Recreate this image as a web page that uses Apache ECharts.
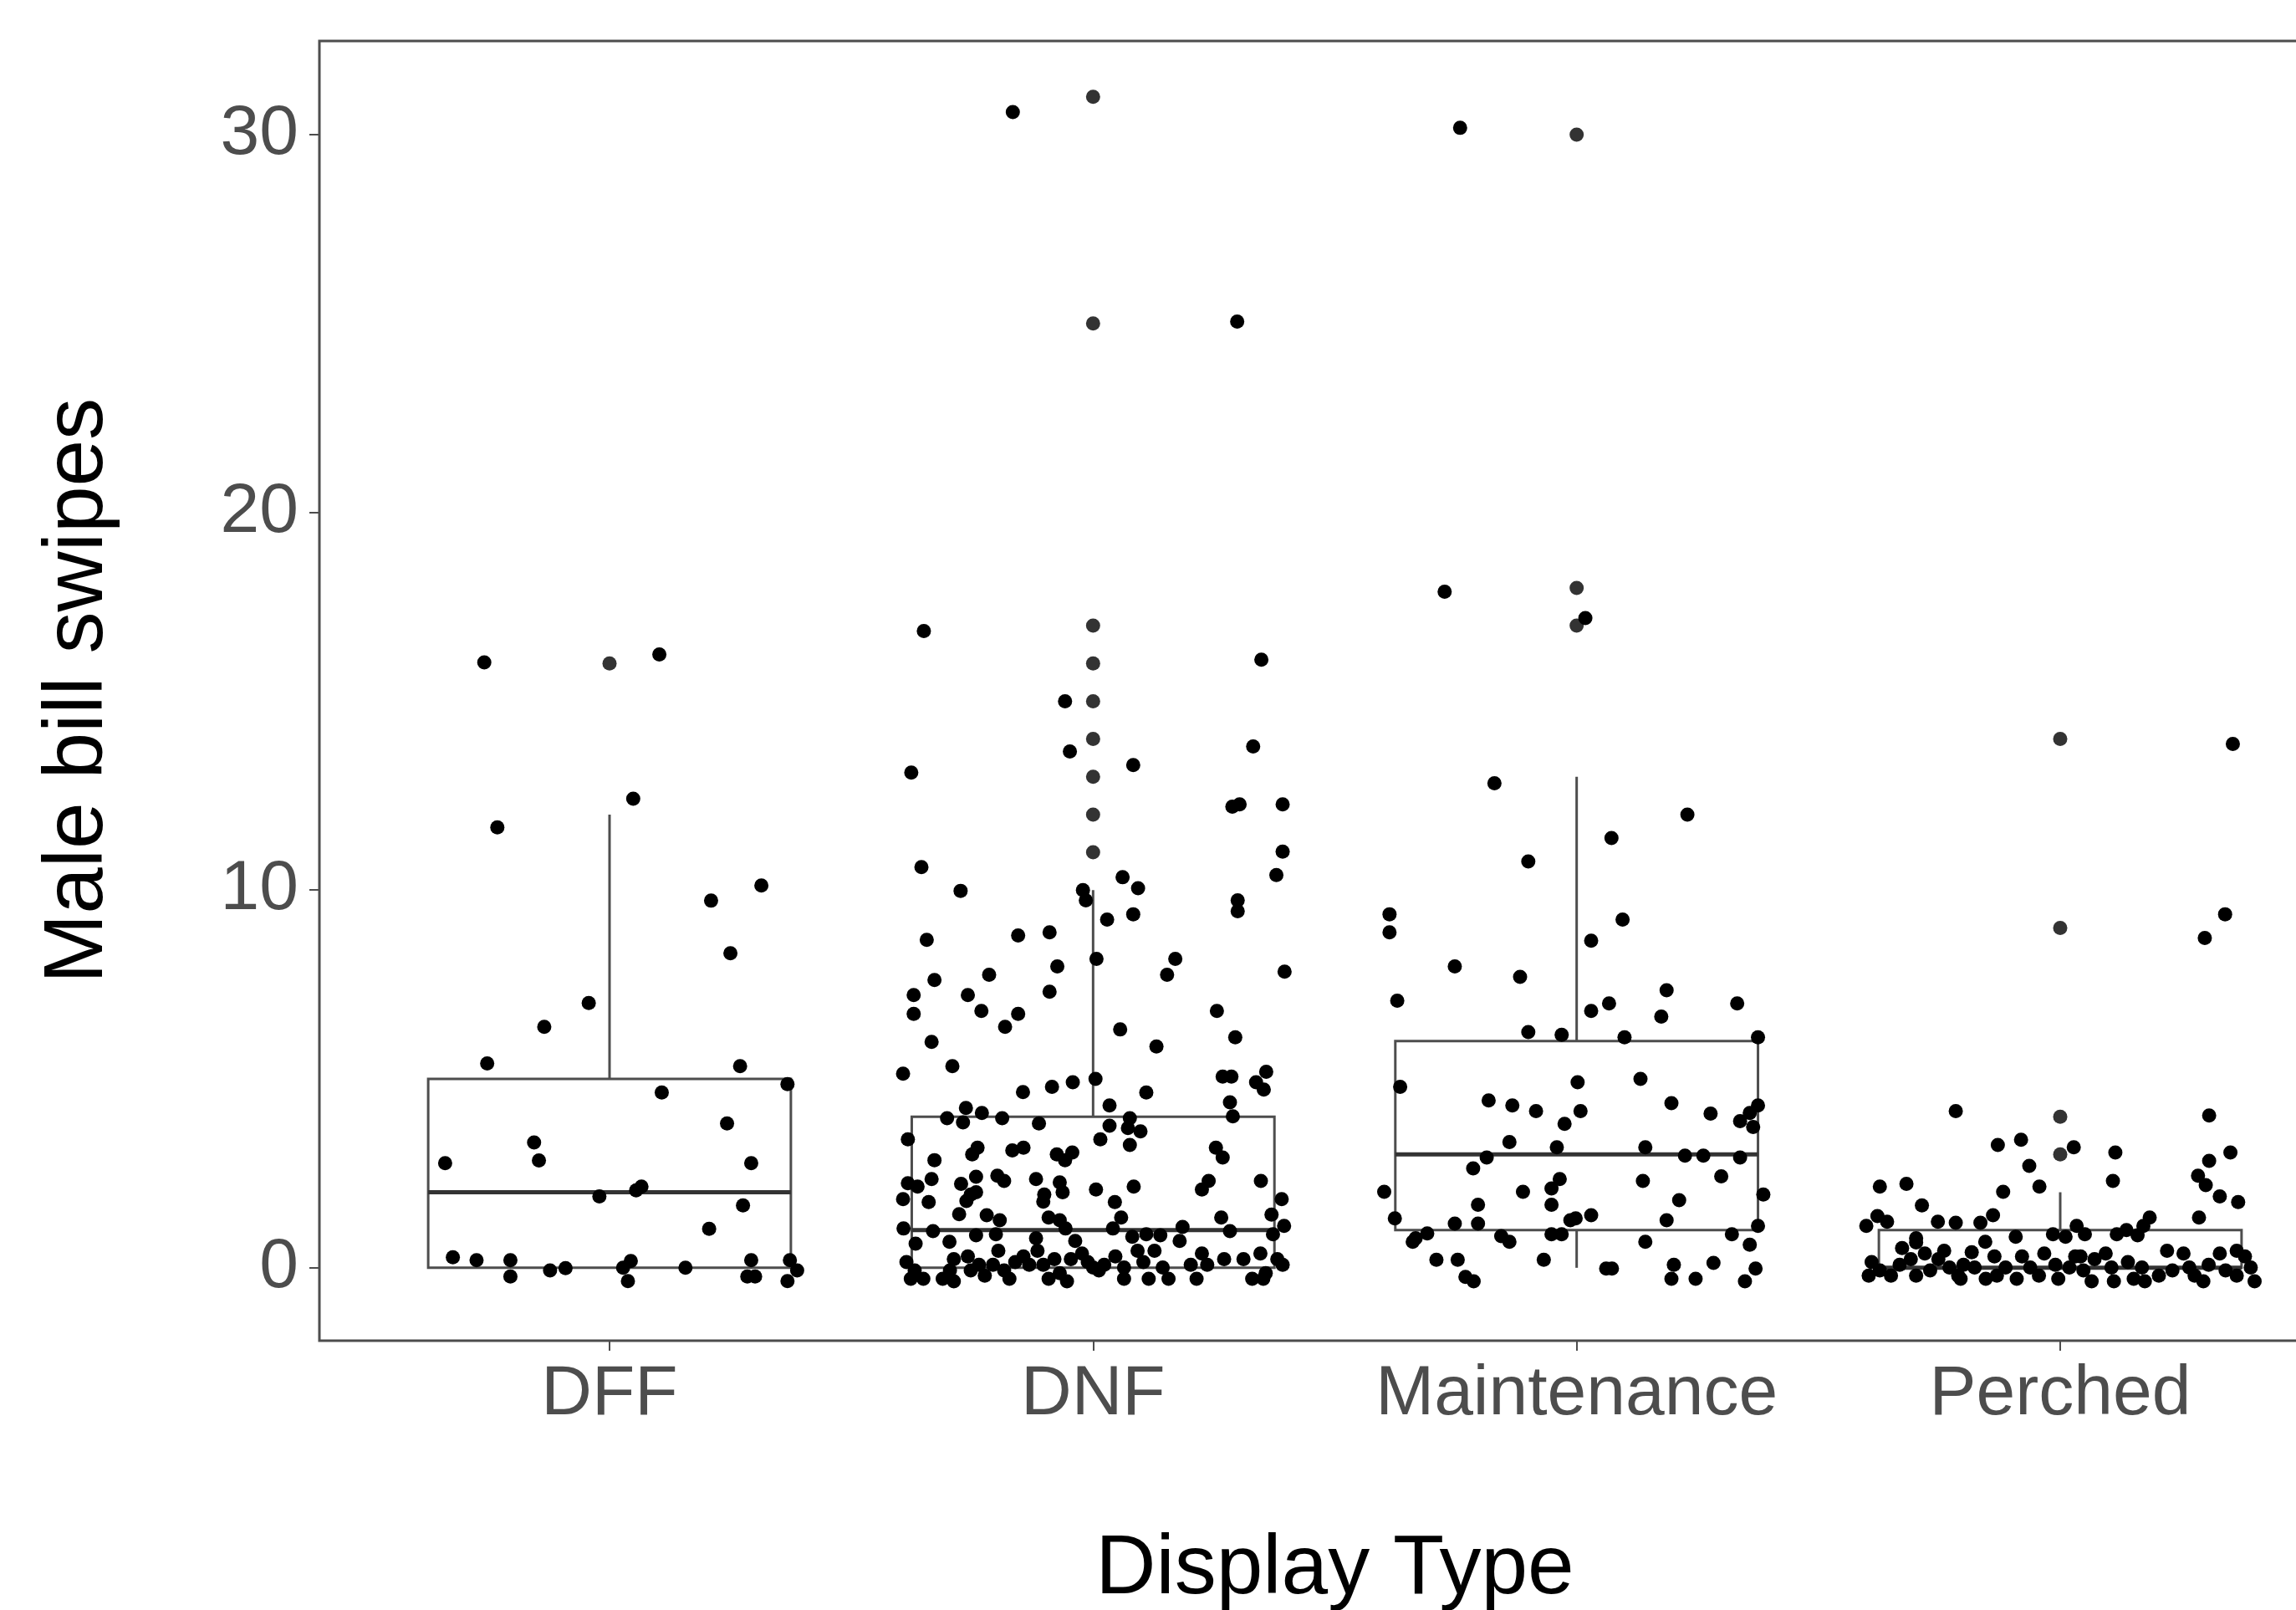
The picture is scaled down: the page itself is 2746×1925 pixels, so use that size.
<!DOCTYPE html>
<html lang="en">
<head>
    <meta charset="UTF-8">
    <title>Male bill swipes by display type</title>
    <style>
        html, body { margin: 0; padding: 0; background: #fff; overflow: hidden; }
    </style>
</head>
<body>
<div id="main" style="width: 2746px;height:1925px;"></div>
<script src="https://cdn.jsdelivr.net/npm/echarts@6/dist/echarts.min.js"></script>
<script>

// categories and box statistics (whisker low, Q1, median, Q3, whisker high)
const categories = ['DFF', 'DNF', 'Maintenance', 'Perched']
const whiskerLow = [0, 0, 0, 0]
const q1 = [0, 0, 1, 0]
const medians = [2, 1, 3, 0]
const q3 = [5, 4, 6, 1]
const whiskerHigh = [12, 10, 13, 2]

// outliers drawn on the category centre line
const outliers = [
    [16],
    [31, 25, 17, 16, 15, 14, 13, 12, 11],
    [30, 18, 17],
    [14, 9, 4, 3]
]

const yTicks = [0, 10, 20, 30]

// jittered raw points, [x position, swipes]
const dffPts = [
    [0.741, 16.03], [1.103, 16.24], [1.049, 12.42], [0.768, 11.66], [1.314, 10.12], [1.210, 9.72],
    [1.250, 8.33], [0.957, 7.01], [0.865, 6.38], [0.747, 5.41], [1.270, 5.34], [1.368, 4.86],
    [1.108, 4.64], [1.243, 3.82], [0.844, 3.32], [0.854, 2.84], [0.660, 2.77], [1.293, 2.77],
    [1.055, 2.05], [1.066, 2.15], [0.979, 1.89], [1.276, 1.65], [1.206, 1.03], [0.676, 0.28],
    [0.725, 0.20], [0.795, 0.20], [0.795, -0.23], [0.877, -0.07], [0.909, -0.01], [1.028, 0.00],
    [1.044, 0.18], [1.038, -0.35], [1.157, 0.00], [1.293, 0.20], [1.285, -0.23], [1.301, -0.23],
    [1.373, 0.20], [1.388, -0.07], [1.368, -0.35]
]

const dnfPts = [
    [1.834, 30.6], [2.298, 25.05], [1.650, 16.86], [2.348, 16.1], [1.942, 15.0],
    [2.331, 13.80], [1.952, 13.67], [2.083, 13.31], [1.624, 13.11], [2.288, 12.21], [2.303, 12.27],
    [2.392, 12.27], [2.392, 11.02], [1.645, 10.61], [2.379, 10.40], [2.061, 10.34], [2.093, 10.05],
    [1.726, 9.98], [1.979, 10.0], [1.985, 9.73], [2.299, 9.73], [2.299, 9.44], [2.029, 9.22],
    [2.083, 9.36], [1.656, 8.68], [1.845, 8.80], [1.910, 8.88], [2.007, 8.18], [2.170, 8.18],
    [2.153, 7.76], [2.396, 7.84], [1.926, 7.98], [1.785, 7.76], [1.672, 7.62], [1.629, 7.22],
    [1.741, 7.22], [1.910, 7.31], [1.629, 6.72], [1.769, 6.80], [1.845, 6.72], [1.818, 6.38],
    [2.256, 6.80], [2.056, 6.31], [2.294, 6.10], [1.666, 5.98], [2.131, 5.86],
    [1.607, 5.14], [1.709, 5.34], [1.855, 4.65], [1.915, 4.79], [1.958, 4.91], [2.005, 5.0],
    [1.698, 3.96], [1.737, 4.23], [1.731, 3.85], [1.770, 4.10], [1.812, 3.96], [1.888, 3.82],
    [1.617, 3.40], [2.015, 3.40], [1.761, 3.18], [1.750, 3.0], [1.833, 3.11], [1.856, 3.18],
    [1.925, 3.0], [1.957, 3.05], [1.942, 2.85], [1.672, 2.85], [1.666, 2.35], [1.617, 2.24],
    [1.637, 2.15], [1.607, 1.82], [1.660, 1.74], [1.758, 2.41], [1.727, 2.22], [1.747, 1.94],
    [1.758, 2.0], [1.738, 1.77], [1.802, 2.44], [1.816, 2.30], [1.882, 2.35], [1.899, 1.94],
    [1.897, 1.75], [1.931, 2.26], [1.937, 2.0], [2.006, 2.07], [1.723, 1.42], [1.780, 1.39],
    [1.807, 1.26], [1.799, 0.89], [1.908, 1.33], [1.931, 1.26], [1.943, 1.04], [1.963, 0.71],
    [1.608, 1.04], [1.669, 0.97], [1.758, 0.86], [1.703, 0.69], [1.633, 0.64], [1.882, 0.78],
    [1.614, 0.15], [1.631, -0.07], [1.623, -0.29], [1.649, -0.29], [1.689, -0.29], [1.704, -0.07],
    [1.712, -0.36], [1.712, 0.23], [1.741, 0.30], [1.747, -0.07], [1.764, 0.08], [1.776, -0.21],
    [1.793, 0.08], [1.804, 0.45], [1.816, -0.07], [1.827, -0.29], [1.839, 0.15], [1.856, 0.30],
    [1.868, 0.08], [1.885, 0.45], [1.897, 0.08], [1.908, -0.29], [1.920, 0.23], [1.931, -0.14],
    [1.946, -0.36], [1.954, 0.23], [1.977, 0.38], [1.989, 0.15], [2.012, -0.07],
    [2.110, 4.64], [2.268, 5.06], [2.286, 5.06], [2.358, 5.19], [2.337, 4.91], [2.353, 4.72],
    [2.283, 4.38], [2.289, 4.01], [2.034, 4.30], [2.076, 3.96], [2.072, 3.70], [2.098, 3.61],
    [2.076, 3.25], [2.034, 3.76], [2.254, 3.18], [2.268, 2.92], [2.084, 2.15], [2.045, 1.74],
    [2.239, 2.30], [2.225, 2.07], [2.347, 2.30], [2.390, 1.82], [2.058, 1.33], [2.041, 1.04],
    [2.265, 1.33], [2.283, 0.97], [2.369, 1.41], [2.372, 0.89], [2.395, 1.11], [2.185, 1.08],
    [2.179, 0.71], [2.081, 0.82], [2.110, 0.89], [2.139, 0.86],
    [2.000, 0.01], [2.023, 0.08], [2.046, 0.30], [2.064, 0.01], [2.064, -0.29], [2.092, 0.45],
    [2.104, 0.15], [2.115, -0.29], [2.127, 0.45], [2.144, 0.01], [2.156, -0.29], [2.202, 0.08],
    [2.214, -0.29], [2.225, 0.38], [2.236, 0.08], [2.271, 0.23], [2.311, 0.23], [2.329, -0.29],
    [2.346, 0.38], [2.357, -0.14], [2.381, 0.23], [2.392, 0.08], [2.352, -0.29]
]

const maintPts = [
    [2.759, 30.18], [2.727, 17.90], [3.018, 17.2], [2.830, 12.83], [2.900, 10.76], [3.229, 12.0],
    [3.072, 11.38], [2.613, 9.36], [2.613, 8.88], [3.095, 9.22], [3.030, 8.66], [2.748, 7.98],
    [2.883, 7.70], [2.629, 7.07], [3.186, 7.35], [3.067, 7.00], [3.030, 6.80], [3.175, 6.65],
    [3.332, 7.00], [2.900, 6.24], [2.969, 6.17], [3.099, 6.10], [3.375, 6.10], [2.635, 4.79],
    [3.002, 4.91], [3.132, 5.0], [2.818, 4.43], [2.867, 4.30], [2.916, 4.15], [3.008, 4.15],
    [2.975, 3.81], [3.196, 4.36], [3.277, 4.08], [3.375, 4.30], [3.358, 4.10], [3.338, 3.88],
    [3.365, 3.73], [2.861, 3.33], [2.959, 3.19], [3.142, 3.19], [2.814, 2.92], [2.786, 2.63],
    [3.224, 2.97], [3.262, 2.97], [3.338, 2.92], [3.299, 2.42], [2.602, 2.01], [2.889, 2.01],
    [2.965, 2.35], [2.948, 2.10], [2.948, 1.67], [2.796, 1.67], [3.137, 2.30], [3.212, 1.79],
    [3.386, 1.94], [2.624, 1.31], [2.748, 1.17], [2.796, 1.17], [2.987, 1.26], [2.998, 1.31],
    [3.030, 1.39], [3.186, 1.26], [3.375, 1.11], [2.691, 0.91], [2.667, 0.78], [2.661, 0.69],
    [2.844, 0.84], [2.861, 0.69], [2.948, 0.89], [2.969, 0.89], [3.142, 0.69], [3.321, 0.89],
    [3.358, 0.61], [2.710, 0.21], [2.754, 0.21], [2.932, 0.21], [2.770, -0.24], [2.787, -0.36],
    [3.061, -0.02], [3.073, -0.02], [3.201, 0.08], [3.196, -0.29], [3.246, -0.29], [3.283, 0.13],
    [3.370, -0.02], [3.348, -0.36]
]

const perchedPts = [
    [4.357, 13.87], [4.341, 9.36], [4.299, 8.73],
    [3.784, 4.15], [4.028, 3.19], [3.871, 3.25], [3.919, 3.39], [3.936, 2.70], [3.957, 2.15],
    [3.882, 2.01], [3.627, 2.15], [3.682, 2.22], [3.714, 1.65], [3.599, 1.11], [3.622, 1.37],
    [3.642, 1.22], [3.747, 1.22], [3.784, 1.19], [3.835, 1.19], [3.861, 1.39], [3.845, 0.69],
    [3.817, 0.41], [3.908, 0.82], [3.985, 0.89], [4.011, 0.82], [4.034, 1.11], [3.702, 0.78],
    [3.610, 0.15], [3.604, -0.21], [3.627, -0.07], [3.650, -0.21], [3.668, 0.08], [3.673, 0.52],
    [3.691, 0.23], [3.702, 0.67], [3.702, -0.21], [3.720, 0.38], [3.731, -0.07], [3.748, 0.23],
    [3.760, 0.45], [3.771, 0.01], [3.789, -0.21], [3.800, 0.08], [3.794, -0.29], [3.823, 0.01],
    [3.846, -0.29], [3.864, 0.30], [3.869, -0.21], [3.887, 0.01], [3.910, -0.29], [3.921, 0.30],
    [3.938, 0.01], [3.956, -0.21], [3.967, 0.38], [3.990, 0.08], [3.996, -0.29], [4.019, 0.01],
    [4.031, 0.30],
    [4.308, 4.03], [4.114, 3.05], [4.352, 3.05], [4.308, 2.83], [4.109, 2.30], [4.285, 2.44],
    [4.301, 2.19], [4.330, 1.89], [4.368, 1.74], [4.287, 1.33], [4.185, 1.33], [4.172, 1.11],
    [4.117, 0.89], [4.137, 1.0], [4.160, 0.86], [4.051, 0.89],
    [4.042, 0.30], [4.048, -0.07], [4.071, 0.23], [4.065, -0.36], [4.094, 0.38], [4.106, 0.01],
    [4.111, -0.36], [4.140, 0.15], [4.152, -0.29], [4.169, 0.01], [4.175, -0.36], [4.204, -0.21],
    [4.221, 0.45], [4.232, -0.07], [4.255, 0.38], [4.267, 0.01], [4.278, -0.21], [4.296, -0.36],
    [4.307, 0.08], [4.330, 0.38], [4.342, -0.07], [4.365, 0.45], [4.365, -0.21], [4.382, 0.30],
    [4.394, 0.01], [4.402, -0.36]
]

const FONT = 'Liberation Sans, Arial, sans-serif'
const BOX_WIDTH = 0.75

let chartDom = document.getElementById('main')
let myChart = echarts.init(chartDom)

let boxData = categories.map((c, i) => [i + 1, whiskerLow[i], q1[i], medians[i], q3[i], whiskerHigh[i]])

let outlierData = []
outliers.forEach((list, i) => {
    list.forEach(v => outlierData.push([i + 1, v]))
})

let jitterData = [].concat(dffPts, dnfPts, maintPts, perchedPts)

function renderBox(params, api) {
    let x = api.value(0)
    let half = api.size([BOX_WIDTH, 0])[0] / 2
    let pLow = api.coord([x, api.value(1)])
    let pQ1 = api.coord([x, api.value(2)])
    let pMed = api.coord([x, api.value(3)])
    let pQ3 = api.coord([x, api.value(4)])
    let pHigh = api.coord([x, api.value(5)])
    let lineStyle = { stroke: '#4d4d4d', lineWidth: 3, fill: null }
    let children = [
        { type: 'line', shape: { x1: pQ3[0], y1: pQ3[1], x2: pHigh[0], y2: pHigh[1] }, style: lineStyle },
        {
            type: 'rect',
            shape: { x: pQ3[0] - half, y: pQ3[1], width: half * 2, height: pQ1[1] - pQ3[1] },
            style: { stroke: '#4d4d4d', lineWidth: 3, fill: '#fff' }
        },
        {
            type: 'line',
            shape: { x1: pMed[0] - half, y1: pMed[1], x2: pMed[0] + half, y2: pMed[1] },
            style: { stroke: '#333', lineWidth: 5 }
        }
    ]
    if (pLow[1] - pQ1[1] > 0.5) {
        children.unshift({ type: 'line', shape: { x1: pLow[0], y1: pLow[1], x2: pQ1[0], y2: pQ1[1] }, style: lineStyle })
    }
    return { type: 'group', children: children }
}

let option = {
    animation: false,
    backgroundColor: '#fff',
    textStyle: { fontFamily: FONT },
    grid: {
        left: 382,
        top: 49,
        width: 2429,
        height: 1554,
        containLabel: false,
        outerBoundsMode: 'none',
        show: true,
        borderColor: '#4d4d4d',
        borderWidth: 3,
        backgroundColor: '#fff'
    },
    xAxis: {
        type: 'value',
        min: 0.4,
        max: 4.6,
        axisLine: { show: false, onZero: false },
        splitLine: { show: false },
        axisTick: {
            show: true,
            customValues: [1, 2, 3, 4],
            length: 12,
            lineStyle: { color: '#4d4d4d', width: 2 }
        },
        axisLabel: {
            customValues: [1, 2, 3, 4],
            formatter: v => categories[Math.round(v) - 1] || '',
            color: '#4d4d4d',
            fontSize: 84,
            fontFamily: FONT,
            margin: 23
        },
        name: 'Display Type',
        nameLocation: 'middle',
        nameGap: 224,
        nameTextStyle: { color: '#000', fontSize: 100, fontFamily: FONT }
    },
    yAxis: {
        type: 'value',
        min: -1.93,
        max: 32.48,
        axisLine: { show: false, onZero: false },
        splitLine: { show: false },
        axisTick: {
            show: true,
            customValues: yTicks,
            length: 12,
            lineStyle: { color: '#4d4d4d', width: 2 }
        },
        axisLabel: {
            customValues: yTicks,
            color: '#4d4d4d',
            fontSize: 84,
            fontFamily: FONT,
            margin: 25
        },
        name: 'Male bill swipes',
        nameLocation: 'middle',
        nameGap: 238,
        nameTextStyle: { color: '#000', fontSize: 100, fontFamily: FONT }
    },
    series: [
        {
            type: 'custom',
            name: 'box',
            renderItem: renderBox,
            encode: { x: 0, y: [1, 2, 3, 4, 5] },
            data: boxData,
            z: 2
        },
        {
            type: 'scatter',
            name: 'outliers',
            data: outlierData,
            symbolSize: 17,
            itemStyle: { color: '#333', opacity: 1 },
            z: 3
        },
        {
            type: 'scatter',
            name: 'points',
            data: jitterData,
            symbolSize: 17,
            itemStyle: { color: '#000', opacity: 1 },
            z: 4
        }
    ]
}

option && myChart.setOption(option)

</script>
</body>
</html>
